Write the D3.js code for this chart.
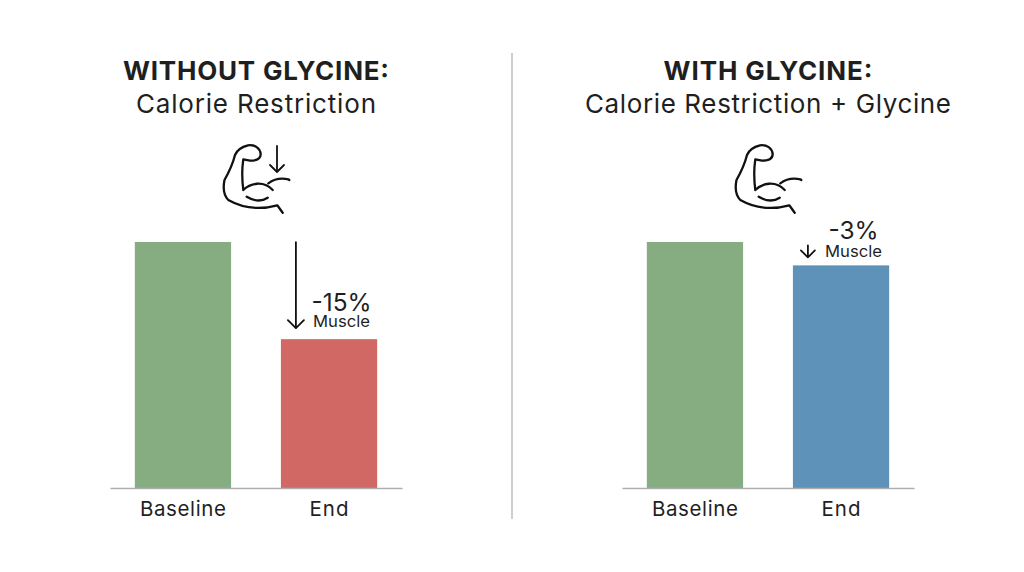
<!DOCTYPE html>
<html><head><meta charset="utf-8">
<script src="https://cdn.jsdelivr.net/npm/d3@7"></script>
<style>html,body{margin:0;background:#fff}svg{display:block}text{font-family:Inter,"Open Sans",sans-serif;fill:#1f1f1f}</style>
</head><body><svg id="c" width="1024" height="572"></svg>
<script>
const categories = ["Baseline","End"];
const withoutValues = [100,60.5];
const withValues = [100,90.5];
const colorsWithout = ["#86ad81","#d16863"];
const colorsWith = ["#86ad81","#5f92b9"];
const titlesBold = ["WITHOUT GLYCINE:","WITH GLYCINE:"];
const titlesSub = ["Calorie Restriction","Calorie Restriction + Glycine"];
const changeLabels = ["-15%","-3%"];
const changeUnit = "Muscle";

const svg = d3.select("#c");
const W = 292, H = 246, baseY = 488;
const y = d3.scaleLinear().domain([0,100]).range([baseY, baseY-H]);
const x = d3.scaleBand().domain(categories).range([0,W]).paddingInner(0.341).paddingOuter(0.17);

const armPath = "M82.7 82.7L77.3 75.3C60 80 43 78.3 28.3 70C23.3 65 23.3 56 24.5 50C28.3 43.3 33 33 35 25C37 20 41 17 48 15.3C55 14.5 60 18 60.7 24C60.7 28 58 30.7 50 30.7L43.3 29.3C41.7 40 42 50 43.3 60C50 53.3 63.3 50 72.7 60M68.3 53.3C75 48.3 81.7 48 88.3 49.3L89.3 50M46.7 66.7C55 71.7 61.7 71.7 67.7 67.7";

svg.append("line").attr("x1",512).attr("x2",512).attr("y1",53).attr("y2",519)
  .attr("stroke","#bdbdbd").attr("stroke-width",1.5);

function panel(i, values, colors, x0, tc, iconX, ann){
  const g = svg.append("g").attr("transform",`translate(${x0},0)`);
  g.selectAll("rect").data(categories).join("rect")
    .attr("x",d=>x(d)).attr("width",x.bandwidth())
    .attr("y",(d,k)=>y(values[k])).attr("height",(d,k)=>y(0)-y(values[k]))
    .attr("fill",(d,k)=>colors[k]);
  const axis = g.append("g").attr("transform",`translate(0,${baseY})`)
    .call(d3.axisBottom(x).tickSize(0).tickPadding(13));
  axis.select(".domain").attr("stroke","#aeaeae").attr("stroke-width",1.6);
  axis.selectAll("text").attr("font-size",20.5).attr("fill","#2a2a2a").attr("font-family",'Inter,sans-serif')
    .attr("textLength",d=>d==="End"?39:86).attr("lengthAdjust","spacing");

  svg.append("text").attr("x",tc).attr("y",80).attr("text-anchor","middle")
    .attr("font-size",26).attr("font-weight",700).attr("fill","#151515")
    .attr("textLength",i?209:266).attr("lengthAdjust","spacing").text(titlesBold[i]);
  svg.append("text").attr("x",tc).attr("y",113).attr("text-anchor","middle")
    .attr("font-size",26).attr("font-weight",400).attr("fill","#2a2a2a")
    .attr("textLength",i?366:240).attr("lengthAdjust","spacing").text(titlesSub[i]);

  svg.append("path").attr("transform",`translate(${iconX},130)`)
    .attr("d",armPath).attr("fill","none").attr("stroke","#111")
    .attr("stroke-width",2.3).attr("stroke-linecap","round").attr("stroke-linejoin","round");

  const endX = x0 + x("End");
  const cx = endX + x.bandwidth()/2;
  const top = y(values[1]);
  svg.append("text").attr("x",cx+12.5).attr("y",top-ann.pct).attr("text-anchor","middle")
    .attr("font-size",24.5).attr("font-weight",400).attr("fill","#151515").text(changeLabels[i]);
  svg.append("text").attr("x",cx+12.5).attr("y",top-ann.unit).attr("text-anchor","middle")
    .attr("font-size",16).attr("fill","#2a2a2a")
    .attr("textLength",57).attr("lengthAdjust","spacingAndGlyphs").text(changeUnit);
  arrow(endX+15, top-ann.len, top-ann.gap, ann.head);
}
function arrow(ax,y0,y1,h){
  svg.append("path").attr("d",`M${ax} ${y0}L${ax} ${y1}M${ax-h} ${y1-h}L${ax} ${y1}L${ax+h} ${y1-h}`)
    .attr("fill","none").attr("stroke","#111").attr("stroke-width",1.8)
    .attr("stroke-linecap","round").attr("stroke-linejoin","round");
}
panel(0, withoutValues, colorsWithout, 110, 256, 200, {pct:28,unit:12,len:97,gap:11,head:8});
panel(1, withValues, colorsWith, 622, 768, 712, {pct:26.5,unit:8.5,len:20,gap:8,head:7});
arrow(277,146,172,7);
d3.select("body").attr("data-ready","1");
</script></body></html>
